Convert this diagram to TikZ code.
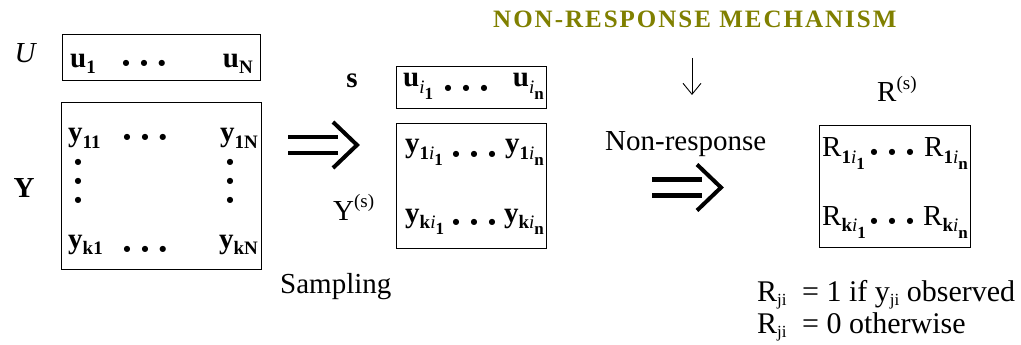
\documentclass[tikz,border=0pt]{standalone}
\usepackage{fontspec}
\setmainfont{Liberation Serif}
\newfontfamily\dvsans{DejaVu Sans}
\usetikzlibrary{arrows.meta}
\definecolor{olivetitle}{RGB}{128,128,0}
\newcommand{\sbs}[1]{\raisebox{-6pt}{\fontsize{19}{19}\selectfont #1}}
\newcommand{\ssbs}[1]{\raisebox{-7pt}{\fontsize{17}{17}\selectfont #1}}
\newcommand{\nsb}[1]{\raisebox{-4pt}{\fontsize{17}{17}\selectfont #1}}
\newcommand{\bul}{{\dvsans\fontsize{8}{8}\selectfont ●}}
\newcommand{\dts}{\bul\hspace{11pt}\bul\hspace{11pt}\bul}

\begin{document}
\begin{tikzpicture}[x=1pt,y=-1pt,>={Straight Barb[length=11pt,width=18pt]},
  font=\fontsize{29}{34}\selectfont,
  mbox/.style={draw,line width=1.4pt,inner sep=0pt,anchor=north west},
  txt/.style={inner sep=0pt,anchor=base west},
  txe/.style={inner sep=0pt,anchor=base east},
  dotsn/.style={inner sep=0pt,anchor=center},
  dblarr/.pic={
    \draw[line width=4.5pt] (-45,-8) -- (5,-8) (-45,8) -- (5,8);
    \draw[line width=4pt] (0,-23) -- (24,0) -- (0,23);
  }]
  \useasboundingbox (0,0) rectangle (1021,345);

  % population
  \node[anchor=base] (ul) at (26,63) {\textit{U}};
  \node[mbox,minimum width=198pt,minimum height=46pt] (ub) at (62,34) {};
  \node[txt] (u1) at (70,67) {\textbf{u}\sbs{\textbf{1}}};
  \node[dotsn] (ud) at (144,63) {\dts};
  \node[txe] (un) at (253,67) {\textbf{u}\sbs{\textbf{N}}};

  \node[anchor=base] (yl) at (24,197) {\textbf{Y}};
  \node[mbox,minimum width=200pt,minimum height=167pt] (yb) at (61,102) {};
  \node[txt] (y11) at (68,142) {\textbf{y}\sbs{\textbf{11}}};
  \node[dotsn] (yd1) at (145,137) {\dts};
  \node[txe] (y1n) at (258,142) {\textbf{y}\sbs{\textbf{1N}}};
  \foreach \xx/\nm in {78/vl,230/vr}
    \node[dotsn,align=center,font=\dvsans\fontsize{8}{19}\selectfont] (\nm) at (\xx,181) {●\\●\\●};
  \node[txt] (yk1) at (68,248) {\textbf{y}\sbs{\textbf{k1}}};
  \node[dotsn] (ydk) at (145,249) {\dts};
  \node[txe] (ykn) at (258,248) {\textbf{y}\sbs{\textbf{kN}}};

  % sampling
  \pic at (333,145) {dblarr};
  \node[txt] (samp) at (280,293) {Sampling};

  \node[anchor=base] (sl) at (352,88) {\textbf{s}};
  \node[mbox,minimum width=150pt,minimum height=42pt] (sb) at (396,66) {};
  \node[txt] (ui1) at (403,87) {\textbf{u}\sbs{\textit{i}\ssbs{\textbf{1}}}};
  \node[dotsn] (sd) at (466,88) {\dts};
  \node[txe] (uin) at (544,87) {\textbf{u}\sbs{\textit{i}\ssbs{\textbf{n}}}};

  \node[txt] (ysl) at (333,220) {Y\raisebox{13pt}{\fontsize{19}{19}\selectfont(s)}};
  \node[mbox,minimum width=150pt,minimum height=125pt] (ysb) at (396,123) {};
  \node[txt] (y1i1) at (405,153) {\textbf{y}\sbs{\textbf{1}\textit{i}\ssbs{\textbf{1}}}};
  \node[dotsn] (ysd1) at (474,154) {\dts};
  \node[txe] (y1in) at (544,153) {\textbf{y}\sbs{\textbf{1}\textit{i}\ssbs{\textbf{n}}}};
  \node[txt] (yki1) at (405,222) {\textbf{y}\sbs{\textbf{k}\textit{i}\ssbs{\textbf{1}}}};
  \node[dotsn] (ysdk) at (474,222) {\dts};
  \node[txe] (ykin) at (544,222) {\textbf{y}\sbs{\textbf{k}\textit{i}\ssbs{\textbf{n}}}};

  % non-response
  \node[txt,text=olivetitle,font=\fontsize{25}{30}\selectfont\bfseries\addfontfeatures{LetterSpace=8}] (mech) at (493,28) {NON-RESPONSE MECHANISM};
  \coordinate (d1) at (692,58);
  \coordinate (d2) at (692,95);
  \draw[->,line width=0.9pt] (d1) -- (d2);
  \node[txt] (nr) at (605,150) {Non-response};
  \pic at (697,187.5) {dblarr};

  \node[txt] (rl) at (877,102) {R\raisebox{13pt}{\fontsize{19}{19}\selectfont(s)}};
  \node[mbox,minimum width=151pt,minimum height=122pt] (rb) at (819,125) {};
  \node[txt] (r1i1) at (822,157) {R\sbs{\textbf{1}\textit{i}\ssbs{\textbf{1}}}};
  \node[dotsn] (rd1) at (892,152) {\dts};
  \node[txe] (r1in) at (968,157) {R\sbs{\textbf{1}\textit{i}\ssbs{\textbf{n}}}};
  \node[txt] (rki1) at (822,225) {R\sbs{\textbf{k}\textit{i}\ssbs{\textbf{1}}}};
  \node[dotsn] (rdk) at (892,221) {\dts};
  \node[txe] (rkin) at (968,225) {R\sbs{\textbf{k}\textit{i}\ssbs{\textbf{n}}}};

  \node[txt,font=\fontsize{30}{36}\selectfont] (n1) at (757,301) {R\nsb{ji}\hspace{8pt} = 1 if y\nsb{ji} observed};
  \node[txt,font=\fontsize{30}{36}\selectfont] (n2) at (757,333) {R\nsb{ji}\hspace{8pt} = 0 otherwise};
\end{tikzpicture}
\end{document}
